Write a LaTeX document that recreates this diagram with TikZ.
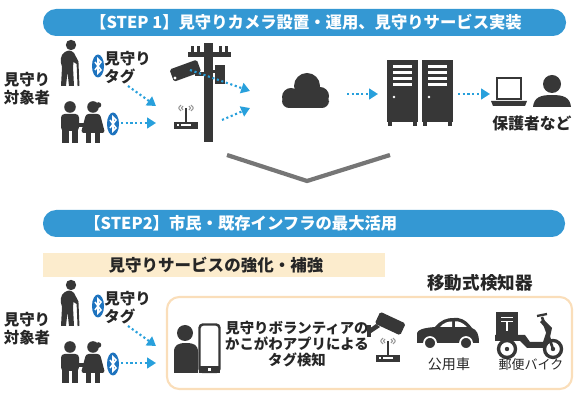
\documentclass[tikz,border=0pt]{standalone}
\usepackage{fontspec}
\setmainfont{Noto Sans CJK JP}
\usepackage{xcolor}
\usepackage{tikz}
\usetikzlibrary{arrows.meta}

\definecolor{bannerblue}{RGB}{52,152,211}
\definecolor{flowblue}{RGB}{40,160,220}
\definecolor{btblue}{RGB}{30,115,190}
\definecolor{icondark}{RGB}{55,55,55}
\definecolor{beige}{RGB}{252,236,205}
\definecolor{boxedge}{RGB}{250,222,186}
\definecolor{chevgray}{RGB}{118,118,118}
\definecolor{wavegray}{RGB}{150,150,150}

% bluetooth tag at a point
\newcommand{\bluetag}[1]{%
  \begin{scope}[shift={#1}]
    \fill[btblue] (0,0) ellipse (6 and 11.5);
    \draw[white, line width=0.9pt] (-3,-4) -- (3,4) -- (0,7) -- (0,-7) -- (3,-4) -- (-3,4);
  \end{scope}}

% small wifi router
\newcommand{\router}[1]{%
  \begin{scope}[shift={#1}]
    \fill[icondark] (0,14) rectangle (24,21);
    \fill[white] (3,16.5) rectangle (5,18.5);
    \fill[white] (7,16.5) rectangle (17,18.5);
    \draw[icondark, line width=1.1pt] (12,0) -- (12,14);
    \draw[wavegray, line width=0.6pt] (9,-2) .. controls (7,0) .. (9,2);
    \draw[wavegray, line width=0.6pt] (7,-3) .. controls (4,0) .. (7,3);
    \draw[wavegray, line width=0.6pt] (15,-2) .. controls (17,0) .. (15,2);
    \draw[wavegray, line width=0.6pt] (17,-3) .. controls (20,0) .. (17,3);
  \end{scope}}

\begin{document}
\begin{tikzpicture}[x=0.02cm, y=-0.02cm,
  icon/.style={fill=icondark},
  flow/.style={flowblue, line width=1.2pt, dash pattern=on 1.2pt off 1.5pt,
    -{Triangle[length=5pt,width=6pt]}},
  banner/.style={fill=bannerblue, rounded corners=7.5pt},
  bannertext/.style={text=white, inner sep=0pt, font=\bfseries\fontsize{9.3}{11}\selectfont},
  label/.style={text=black!85, inner sep=0pt, font=\bfseries\fontsize{8.8}{10.2}\selectfont}]
\useasboundingbox (0,0) rectangle (578,394);

% title bars
\fill[banner] (43,9) rectangle (566,36);
\node[bannertext] (step1) at (306,22.5) {【STEP 1】見守りカメラ設置・運用、見守りサービス実装};
\fill[banner] (43,210) rectangle (565,237);
\node[bannertext, anchor=west] (step2) at (84,223.5) {【STEP2】市民・既存インフラの最大活用};
\fill[beige] (43,253) rectangle (385,277);
\node[label, font=\bfseries\fontsize{9.4}{11}\selectfont] (kyouka) at (216,265) {見守りサービスの強化・補強};

% down chevron
\draw[chevgray, line width=2.4pt] (227,155) -- (307,181) -- (390,155);

% watched people and their tags, once per step
\foreach \dy/\row in {0/a, 240/b} {
\begin{scope}[shift={(0,\dy)}]
  \node[label, align=center] (who\row) at (27,89) {見守り\\対象者};
  % elderly with cane
  \fill[icon] (71,45) circle (5.2);
  \fill[icon] (65,52) .. controls (60,55) and (60,61) .. (62,67) -- (61,86) -- (66,86) -- (67.5,72)
    -- (69,86) -- (74,86) -- (73,67) -- (73.5,62) -- (76.5,64) -- (78.5,61.5) -- (74,53)
    .. controls (71,50) and (68,50) .. (65,52) -- cycle;
  \draw[icondark, line width=1.1pt] (77.5,62) -- (78.5,86);
  % two kids holding hands
  \fill[icon] (70,107) circle (5.8);
  \fill[icon, rounded corners=2pt] (61,114) rectangle (79,131);
  \fill[icon] (62,129) rectangle (68.5,143);
  \fill[icon] (71.5,129) rectangle (78,143);
  \fill[icon] (93,107) circle (5.8);
  \fill[icon] (98.5,105) circle (2.8);
  \fill[icon, rounded corners=1.5pt] (86,114) -- (100,114) -- (105,133) -- (81,133) -- cycle;
  \fill[icon] (86,132) rectangle (91,143);
  \fill[icon] (95,132) rectangle (100,143);
  \fill[icon] (78,123) rectangle (84,127);
  \bluetag{(98,66)}
  \bluetag{(113,124)}
  \node[label, align=left, anchor=west] (tag\row) at (104,68) {見守り\\タグ};
  \coordinate (tagout\row) at (128,86);
  \coordinate (kidsout\row) at (121,123);
  \coordinate (in1\row) at (156,106);
  \coordinate (in2\row) at (156,123);
  \draw[flow] (tagout\row) -- (in1\row);
  \draw[flow] (kidsout\row) -- (in2\row);
\end{scope}
}

% utility pole with camera and router
\fill[icon] (204,43) rectangle (213,142);
\fill[icon] (188,52) rectangle (231,57);
\foreach \x in {191,197,219,225} \fill[icon] (\x,46) rectangle (\x+2.5,52);
\fill[icon] (215,65) rectangle (225,84);
\fill[icon] (212,70) rectangle (215,73);
\fill[icon] (195,72) rectangle (204,76);
\fill[icon, rounded corners=1pt, rotate around={20:(186,71)}] (171,64) rectangle (200,77);
\fill[white] (175,78) circle (1.6);
\router{(174,108)}
\coordinate (cam) at (190,70);
\coordinate (rtr) at (222,120);
\coordinate (cloudin1) at (250,91);
\coordinate (cloudin2) at (250,108);
\draw[flow] (cam) -- (cloudin1);
\draw[flow] (rtr) -- (cloudin2);

% cloud
\fill[icon] (291,97) circle (9);
\fill[icon] (307,86) circle (13);
\fill[icon] (320,96) circle (9);
\fill[icon, rounded corners=4pt] (282,95) rectangle (329,108);
\coordinate (cloudout) at (347,94);
\coordinate (srvin) at (378,94);
\draw[flow] (cloudout) -- (srvin);

% servers
\foreach \x in {387,422} {
  \fill[icon] (\x,60) rectangle (\x+31,122);
  \fill[icon] (\x+1,121) rectangle (\x+5,126);
  \fill[icon] (\x+26,121) rectangle (\x+30,126);
  \foreach \y in {65,71,77,83} \fill[white] (\x+6,\y) rectangle (\x+25,\y+3);
  \fill[white] (\x+7,97) circle (1.4);
}
\coordinate (srvout) at (458,94);
\coordinate (pcin) at (490,94);
\draw[flow] (srvout) -- (pcin);

% laptop and guardian
\draw[icondark, line width=1.3pt] (497,78) rectangle (521,99);
\fill[icon] (491,101) -- (527,101) -- (525,106) -- (493,106) -- cycle;
\fill[icon] (552,84) circle (9);
\fill[icon] (533,107) .. controls (534,97) and (541,95) .. (552,95)
  .. controls (563,95) and (570,97) .. (571,107) -- cycle;
\node[label, font=\bfseries\fontsize{9}{11}\selectfont] (hogosha) at (532,123) {保護者など};

% mobile detectors
\draw[boxedge, line width=1.2pt, rounded corners=7pt] (167,297) rectangle (572,389);
\node[label, font=\bfseries\fontsize{10}{12}\selectfont] (idou) at (480,283) {移動式検知器};

% volunteer with phone
\fill[icon] (185,333) circle (8);
\fill[icon] (174,373) -- (174,352) .. controls (174,345) and (178,343) .. (186,343)
  .. controls (194,343) and (198,345) .. (198,352) -- (198,373) -- cycle;
\draw[icondark, fill=white, line width=1.4pt, rounded corners=2pt] (199.5,324.5) rectangle (219.5,372);
\fill[icon] (199,366) rectangle (220,373);
\fill[white] (208,368.5) rectangle (211,371);
\node[label, align=center, font=\bfseries\fontsize{8.2}{9.2}\selectfont] (volunteer) at (297,344)
  {見守りボランティアの\\かこがわアプリによる\\タグ検知};

% camera and router on the box
\fill[icon] (367,325) rectangle (370.5,337);
\fill[icon] (369,329) -- (376,324) -- (380,327) -- (371,333) -- cycle;
\fill[icon, rounded corners=1pt, rotate around={-25:(390,324)}] (376,317) rectangle (404,330);
\router{(376,341)}

% public car
\fill[icon] (417,343) -- (417,333) .. controls (418,330) and (422,328) .. (435,327)
  .. controls (441,320) and (446,318) .. (454,318) -- (458,318)
  .. controls (465,319) and (469,324) .. (472,328) .. controls (477,330) and (479,334) .. (479,343) -- cycle;
\fill[white] (440,327) .. controls (444,322.5) and (448,321.5) .. (452,321.5) -- (452,327) -- cycle;
\fill[white] (455,321.5) -- (458,321.5) .. controls (462,322.5) and (465,325) .. (467,327) -- (455,327) -- cycle;
\draw[white, line width=1pt, fill=icondark] (430,343) circle (6);
\draw[white, line width=1pt, fill=icondark] (466,343) circle (6);
\node[label, font=\fontsize{8}{10}\selectfont] (koyosha) at (449,364) {公用車};

% postal motorbike
\fill[icon] (496,312) rectangle (518,336);
\draw[white, line width=0.8pt] (501,317.5) -- (513,317.5) (501,321.5) -- (513,321.5) (507,321.5) -- (507,331);
\fill[icon] (495,335) -- (525,335) -- (530,342) -- (543,342) -- (547,330) -- (540,322) -- (543,319)
  -- (552,328) -- (550,337) -- (545,348) -- (527,348) -- (520,341) -- (495,341) -- cycle;
\draw[icondark, line width=1.5pt] (542,317) -- (553,349);
\draw[icondark, line width=1.3pt] (537,316) -- (547,314);
\draw[icondark, line width=1.9pt] (507,349) circle (8.5);
\draw[icondark, line width=1.9pt] (553,349) circle (8.5);
\fill[icon] (507,349) circle (2.2);
\fill[icon] (553,349) circle (2.2);
\node[label, font=\fontsize{7.4}{9}\selectfont] (yubin) at (531,365) {郵便バイク};
\end{tikzpicture}
\end{document}
